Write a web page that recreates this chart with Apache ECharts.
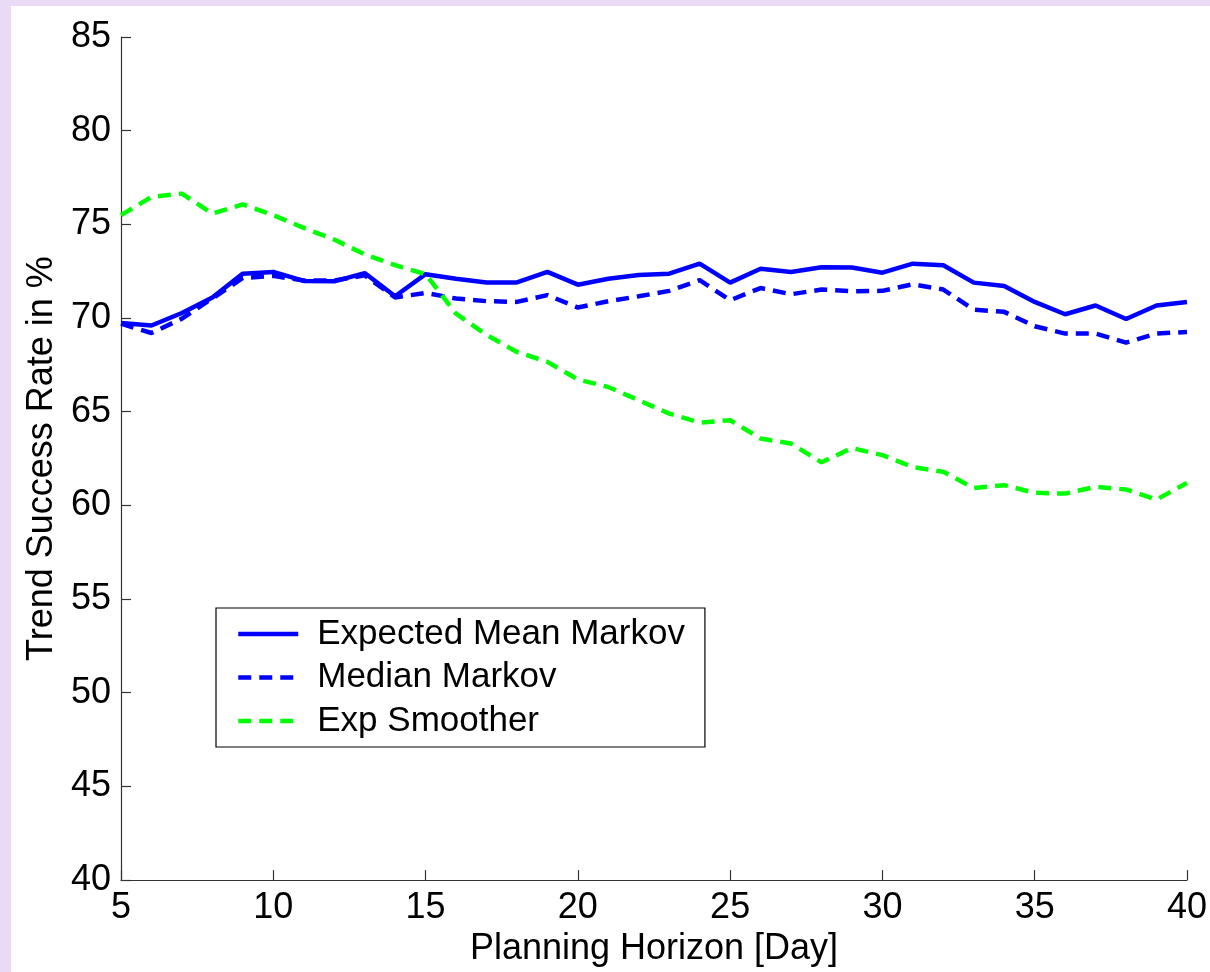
<!DOCTYPE html>
<html>
<head>
<meta charset="utf-8">
<script src="https://cdn.jsdelivr.net/npm/echarts@6/dist/echarts.min.js"></script>
<style>
    html, body { margin: 0; padding: 0; background: #e9dbf5; }
    #chart { position: absolute; left: 11px; top: 6px; width: 1199px; height: 966px; background: #fff; }
</style>
</head>
<body>
<div id="chart"></div>
<script>
// planning horizon (days) and success rates
var days = [5, 6, 7, 8, 9, 10, 11, 12, 13, 14, 15, 16, 17, 18, 19, 20, 21, 22,
            23, 24, 25, 26, 27, 28, 29, 30, 31, 32, 33, 34, 35, 36, 37, 38, 39, 40]

var expectedMean = [69.74, 69.6, 70.27, 71.1, 72.37, 72.46, 71.98, 71.96, 72.4, 71.16, 72.34, 72.1,
                    71.9, 71.9, 72.46, 71.78, 72.1, 72.3, 72.37, 72.9, 71.89, 72.63, 72.46, 72.71,
                    72.7, 72.42, 72.9, 72.82, 71.89, 71.71, 70.86, 70.2, 70.67, 69.95, 70.67, 70.86]

var medianMarkov = [69.7, 69.2, 69.97, 71.05, 72.14, 72.25, 72.0, 72.0, 72.28, 71.1, 71.34, 71.04,
                    70.9, 70.86, 71.22, 70.56, 70.9, 71.16, 71.45, 72.02, 70.95, 71.6, 71.27, 71.52,
                    71.43, 71.45, 71.8, 71.52, 70.45, 70.33, 69.56, 69.17, 69.17, 68.69, 69.17, 69.26]

var expSmoother = [75.49, 76.46, 76.64, 75.57, 76.07, 75.49, 74.81, 74.19, 73.4, 72.82, 72.34, 70.24,
                   69.1, 68.19, 67.66, 66.72, 66.32, 65.61, 64.9, 64.42, 64.55, 63.57, 63.3, 62.3,
                   63.06, 62.68, 62.05, 61.79, 60.93, 61.08, 60.67, 60.63, 60.99, 60.85, 60.31, 61.2]

var seriesNames = ['Expected Mean Markov', 'Median Markov', 'Exp Smoother']

function pairs(vals) {
    return days.map(function (d, i) { return [d, vals[i]] })
}

var font = 'Liberation Sans, Arial, sans-serif'
var myChart = echarts.init(document.getElementById('chart'))

var axisCommon = {
    type: 'value',
    interval: 5,
    axisLine: { show: true, lineStyle: { color: '#333', width: 1.2 } },
    axisTick: { show: true, inside: true, length: 10, lineStyle: { color: '#333', width: 1.2 } },
    splitLine: { show: false },
    axisLabel: { color: '#000', fontSize: 36, fontFamily: font, margin: 10 },
    nameLocation: 'middle',
    nameTextStyle: { color: '#000', fontSize: 36, fontFamily: font }
}

var option = {
    animation: false,
    grid: { left: 110, right: 22, top: 31, bottom: 86 },
    xAxis: Object.assign({}, axisCommon, {
        min: 5, max: 40,
        name: 'Planning Horizon [Day]',
        nameGap: 50
    }),
    yAxis: Object.assign({}, axisCommon, {
        min: 40, max: 85,
        name: 'Trend Success Rate in %',
        nameGap: 60
    }),
    legend: {
        orient: 'vertical',
        left: 205, top: 602,
        borderColor: '#000',
        borderWidth: 1.2,
        padding: [8, 20, 8, 20],
        itemWidth: 60,
        itemHeight: 20,
        itemGap: 7.5,
        itemStyle: { opacity: 0 },
        lineStyle: { width: 4.5 },
        textStyle: { color: '#000', fontSize: 35, fontFamily: font, lineHeight: 36, padding: [0, 0, 0, 14] },
        data: seriesNames
    },
    series: [
        {
            name: seriesNames[0], type: 'line', data: pairs(expectedMean),
            symbol: 'none', lineStyle: { color: '#0000ff', width: 4.5 }, itemStyle: { color: '#0000ff' }
        },
        {
            name: seriesNames[1], type: 'line', data: pairs(medianMarkov),
            symbol: 'none', lineStyle: { color: '#0000ff', width: 4.5, type: [13, 8] }, itemStyle: { color: '#0000ff' }
        },
        {
            name: seriesNames[2], type: 'line', data: pairs(expSmoother),
            symbol: 'none', lineStyle: { color: '#00ff00', width: 4.5, type: [13, 8] }, itemStyle: { color: '#00ff00' }
        }
    ]
}

myChart.setOption(option)
</script>
</body>
</html>
